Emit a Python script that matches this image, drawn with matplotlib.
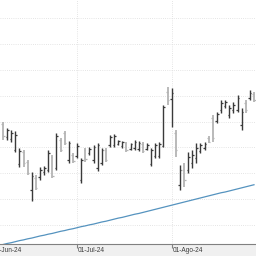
import matplotlib
matplotlib.use("Agg")
import matplotlib.pyplot as plt
import matplotlib.transforms as mtransforms

# daily OHLC bars, one per trading day (index 0 = 05-Jun-24)
opens = [23.91, 23.40, 23.33, 22.90, 22.36, 22.83, 22.44, 21.36, 21.82, 21.86,
         22.05, 22.13, 22.63, 22.21, 23.29, 23.56, 22.52, 22.71, 22.67, 21.74,
         22.90, 22.79, 22.52, 22.21, 22.40, 22.90, 23.10, 23.10, 23.13, 23.06,
         23.17, 22.94, 22.98, 22.94, 23.13, 22.94, 22.36, 22.67, 22.67, 23.06,
         25.14, 24.87, 23.56, 21.55, 22.13, 22.13, 22.40, 22.59, 22.86, 22.98,
         23.37, 24.14, 24.02, 24.45, 24.60, 24.25, 24.45, 24.45, 23.87, 24.72,
         24.91, 25.07]
highs = [23.98, 23.75, 23.68, 23.64, 22.98, 22.90, 22.52, 22.05, 21.94, 22.25,
         22.28, 22.90, 22.71, 23.56, 23.37, 23.64, 23.25, 22.79, 23.17, 22.59,
         22.98, 23.02, 23.10, 23.17, 22.98, 22.98, 23.48, 23.52, 23.29, 23.25,
         23.21, 23.17, 23.29, 23.25, 23.21, 23.17, 22.98, 23.17, 23.21, 24.64,
         25.33, 25.30, 23.68, 22.32, 22.40, 22.83, 22.90, 23.17, 23.17, 23.21,
         23.44, 24.25, 24.37, 24.83, 24.83, 24.64, 24.76, 25.03, 24.53, 24.83,
         25.22, 25.14]
lows = [23.29, 23.29, 23.21, 22.83, 22.25, 22.25, 21.94, 20.93, 21.36, 21.74,
        21.94, 22.05, 21.82, 22.13, 22.83, 23.10, 22.40, 22.40, 22.59, 21.63,
        22.44, 22.71, 22.40, 22.09, 22.32, 22.44, 23.02, 23.02, 23.10, 22.98,
        22.83, 22.90, 22.90, 22.86, 22.79, 22.90, 22.28, 22.59, 22.59, 23.02,
        24.64, 23.79, 22.63, 21.36, 21.47, 22.01, 22.21, 22.40, 22.79, 22.90,
        23.17, 23.21, 23.95, 24.33, 24.53, 24.14, 24.33, 24.37, 23.68, 24.33,
        24.83, 24.76]
closes = [23.44, 23.68, 23.56, 23.48, 22.86, 22.40, 22.01, 21.90, 21.43, 22.13,
          22.21, 22.79, 21.90, 23.44, 22.90, 23.17, 23.17, 22.48, 23.06, 22.52,
          22.55, 22.94, 23.02, 23.10, 22.90, 22.52, 23.40, 23.44, 23.25, 23.21,
          22.90, 23.13, 23.21, 23.17, 22.86, 23.10, 22.90, 23.10, 23.13, 24.56,
          24.83, 25.11, 22.90, 22.13, 21.74, 22.63, 22.71, 22.98, 23.10, 23.13,
          23.21, 23.37, 24.29, 24.72, 24.76, 24.53, 24.64, 24.91, 24.37, 24.45,
          25.11, 24.83]
# long moving average (blue line)
moving_avg = [19.25, 19.29, 19.32, 19.36, 19.40, 19.43, 19.47, 19.50, 19.54, 19.58,
              19.61, 19.65, 19.68, 19.72, 19.76, 19.79, 19.83, 19.86, 19.90, 19.94,
              19.97, 20.01, 20.04, 20.08, 20.12, 20.15, 20.19, 20.23, 20.27, 20.30,
              20.34, 20.38, 20.42, 20.45, 20.49, 20.53, 20.57, 20.61, 20.65, 20.69,
              20.73, 20.77, 20.81, 20.85, 20.89, 20.93, 20.97, 21.01, 21.05, 21.09,
              21.13, 21.17, 21.21, 21.25, 21.28, 21.32, 21.36, 21.40, 21.44, 21.48,
              21.52, 21.56]
month_pos = [-2.6, 18, 41]
month_labels = ["03-Jun-24", "01-Jul-24", "01-Ago-24"]

up_color = "#3a3a3a"
down_color = "#b4b4b4"

fig = plt.figure(figsize=(2.56, 2.56), dpi=100, facecolor="#f0f0f0")
ax = fig.add_axes([0, 12 / 256, 1, 244 / 256], facecolor="white")

idx = list(range(len(opens)))
for i in idx:
    col = up_color if closes[i] >= opens[i] else down_color
    lw = 1.0 if col == up_color else 1.3
    ax.vlines(i, lows[i], highs[i], color=col, lw=lw, zorder=3)
    ax.hlines(opens[i], i - 0.38, i, color=col, lw=0.9, zorder=3)
    ax.hlines(closes[i], i, i + 0.38, color=col, lw=0.9, zorder=3)

ax.plot(idx, moving_avg, color="#5593bf", lw=0.9, zorder=2)

ax.set_xlim(-0.73, 61.49)
ax.set_ylim(19.27, 28.70)
ax.set_yticks(range(20, 29))
ax.set_xticks(month_pos[1:])
ax.set_xticklabels([])
ax.set_yticklabels([])
ax.tick_params(axis="y", length=0)
ax.tick_params(axis="x", length=3, width=0.8, color="#808080", direction="out")
ax.grid(True, color="#dcdcdc", linestyle=(0, (1, 1.6)), lw=0.6)
ax.set_axisbelow(True)

for side in ["top", "left", "right"]:
    ax.spines[side].set_visible(False)
ax.spines["bottom"].set_color("#808080")
ax.spines["bottom"].set_linewidth(0.8)

trans = mtransforms.blended_transform_factory(ax.transData, ax.transAxes)
for pos, lab in zip(month_pos, month_labels):
    ax.text(pos + 0.15, -0.028, lab, transform=trans, ha="left", va="center",
            fontsize=4.7, color="#3c3c3c", family="Liberation Sans", clip_on=False)

fig.savefig("out.png", dpi=100, facecolor=fig.get_facecolor())
